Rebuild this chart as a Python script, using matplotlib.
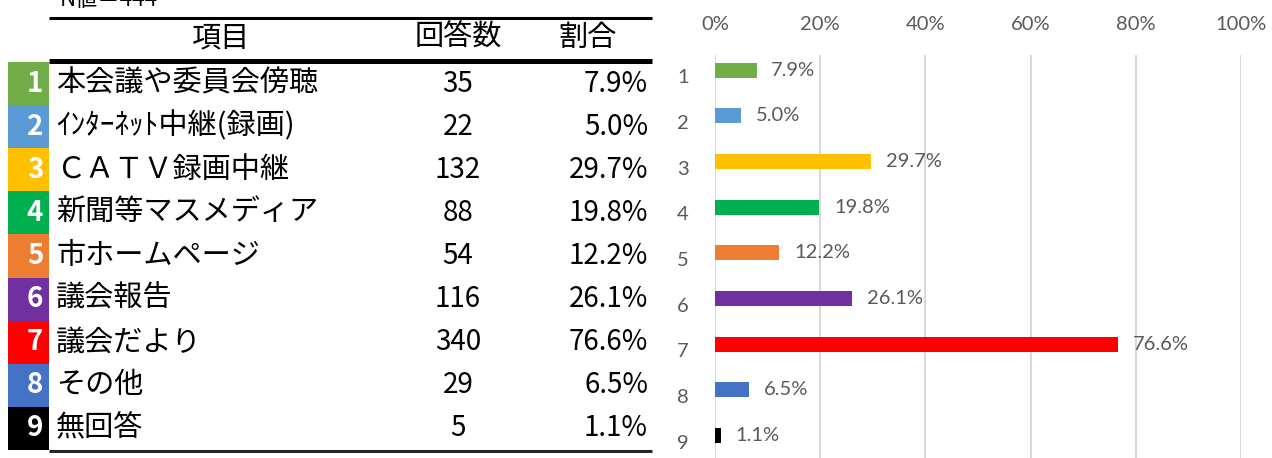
#!/usr/bin/env python
# -*- coding: utf8 -*-
import matplotlib
matplotlib.use('Agg')
import matplotlib.pyplot as plt
from matplotlib.patches import Rectangle

plt.rcParams['font.family'] = ['Noto Sans CJK JP', 'DejaVu Sans']

# data
numbers = ['1', '2', '3', '4', '5', '6', '7', '8', '9']
items = ['本会議や委員会傍聴', 'ｲﾝﾀｰﾈｯﾄ中継(録画)', 'ＣＡＴＶ録画中継',
         '新聞等マスメディア', '市ホームページ', '議会報告', '議会だより',
         'その他', '無回答']
counts = [35, 22, 132, 88, 54, 116, 340, 29, 5]
shares = [7.9, 5.0, 29.7, 19.8, 12.2, 26.1, 76.6, 6.5, 1.1]
colors = ['#70AD47', '#5B9BD5', '#FFC000', '#00B050', '#ED7D31',
          '#7030A0', '#FF0000', '#4472C4', '#000000']
headers = ['項目', '回答数', '割合']
total_label = 'N値＝444'
xticks = [0, 20, 40, 60, 80, 100]

W, H = 1272, 458
LATIN = ['Lato', 'DejaVu Sans']


def draw_table(ax):
    ax.set_xlim(0, W)
    ax.set_ylim(H, 0)
    ax.axis('off')

    # the reference shows this line cut off at the top edge
    ax.text(60, 6, total_label, fontsize=16, va='baseline', ha='left')

    # header
    ax.plot([49, 652], [17.5, 17.5], color='black', lw=2.2,
            solid_capstyle='butt')
    ax.plot([49, 652], [60.5, 60.5], color='black', lw=3.6,
            solid_capstyle='butt')
    ax.text(220, 38, headers[0], fontsize=21, ha='center', va='center')
    ax.text(458, 38, headers[1], fontsize=21, ha='center', va='center')
    ax.text(588, 38, headers[2], fontsize=21, ha='center', va='center')

    top, rowh = 62.0, 43.1
    for i, (num, item, cnt, pct) in enumerate(zip(numbers, items,
                                                   counts, shares)):
        y0 = top + rowh * i
        yc = y0 + rowh / 2
        ax.add_patch(Rectangle((8, y0), 41, rowh, color=colors[i], lw=0))
        ax.text(35, yc, num, fontsize=20, color='white', fontweight='bold',
                ha='center', va='center')
        ax.text(56, yc, item, fontsize=21, ha='left', va='center')
        ax.text(458, yc, str(cnt), fontsize=20, ha='center', va='center')
        ax.text(648, yc, '{:.1f}%'.format(pct), fontsize=20, ha='right',
                va='center')

    ybot = top + rowh * len(items) + 1
    ax.plot([49, 652], [ybot, ybot], color='#262626', lw=2.2,
            solid_capstyle='butt')


def draw_bars(ax):
    grey = '#595959'
    ypos = list(range(1, len(shares) + 1))
    bar_y = [y - 0.17 for y in ypos]
    ax.barh(bar_y, shares, height=0.33, color=colors, zorder=3)
    for y, v in zip(bar_y, shares):
        ax.text(v + 2.8, y, '{:.1f}%'.format(v), fontsize=14.5, color=grey,
                ha='left', va='center', family=LATIN)

    ax.set_xlim(0, 100)
    ax.set_ylim(len(shares) + 0.5, 0.5)
    ax.set_xticks(xticks)
    ax.set_xticklabels(['{:d}%'.format(t) for t in xticks], family=LATIN)
    ax.set_yticks([y - 0.03 for y in ypos])
    ax.set_yticklabels(numbers, family=LATIN)
    ax.xaxis.tick_top()
    ax.tick_params(axis='x', length=0, pad=16, labelsize=14.5, colors=grey)
    ax.tick_params(axis='y', length=0, pad=19, labelsize=14.5, colors=grey)
    ax.grid(axis='x', color='#D9D9D9', lw=1.5, zorder=0)
    for s in ax.spines.values():
        s.set_visible(False)


def main():
    fig = plt.figure(figsize=(W / 100, H / 100), dpi=100)
    tab = fig.add_axes([0, 0, 1, 1])
    draw_table(tab)

    left, right, top, bottom = 715, 1241, 55, 466
    chart = fig.add_axes([left / W, (H - bottom) / H, (right - left) / W,
                          (bottom - top) / H])
    draw_bars(chart)

    fig.savefig('out.png', dpi=100)


if __name__ == "__main__":
    main()
